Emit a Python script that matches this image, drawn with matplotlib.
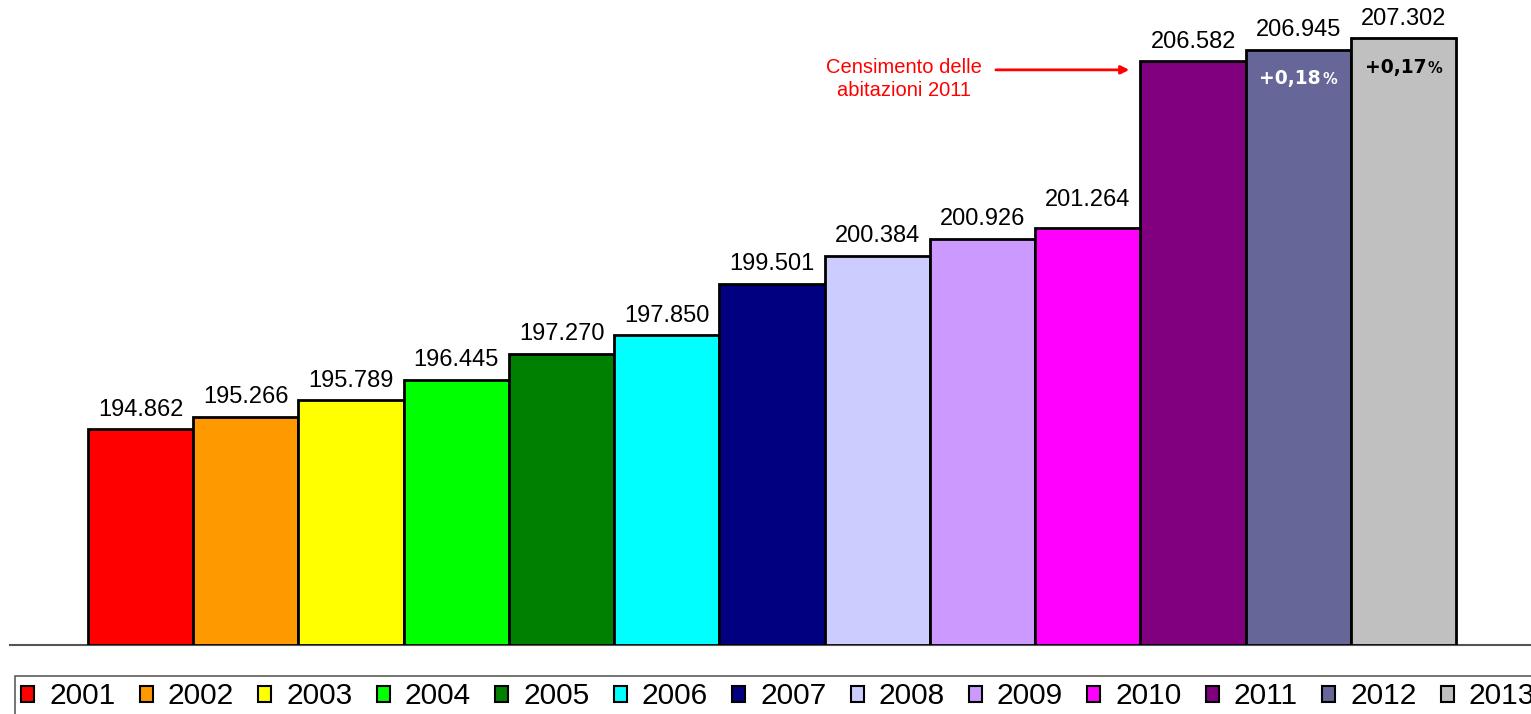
import matplotlib.pyplot as plt
from matplotlib.patches import Patch
from matplotlib.offsetbox import TextArea, HPacker, AnnotationBbox

plt.rcParams['font.family'] = ['Liberation Sans', 'DejaVu Sans']

years = ['2001', '2002', '2003', '2004', '2005', '2006', '2007',
         '2008', '2009', '2010', '2011', '2012', '2013']
values = [194.862, 195.266, 195.789, 196.445, 197.270, 197.850, 199.501,
          200.384, 200.926, 201.264, 206.582, 206.945, 207.302]
colors = ['#FF0000', '#FF9900', '#FFFF00', '#00FF00', '#008000', '#00FFFF',
          '#000080', '#CCCCFF', '#CC99FF', '#FF00FF', '#800080', '#666699',
          '#C0C0C0']
pct_bars = [11, 12]
pct_values = ['+0,18', '+0,17']
pct_colors = ['white', 'black']

fig = plt.figure(figsize=(15.31, 7.14), dpi=100)
ax = fig.add_axes([0.0065, 0.0966, 0.9935, 0.8804])

x = list(range(len(values)))
ax.bar(x, [v - 188 for v in values], bottom=188, width=1.0,
       color=colors, edgecolor='black', linewidth=2, zorder=3)

# value labels above the bars (2010 label sits higher in the original)
for i, v in enumerate(values):
    off = 12 if i == 9 else 6
    ax.annotate(f"{v:.3f}", (i, v), textcoords="offset points",
                xytext=(0, off), ha='center', va='bottom', fontsize=17)

# percentage changes inside the last two bars
for i, txt, col in zip(pct_bars, pct_values, pct_colors):
    box = HPacker(children=[
        TextArea(txt, textprops=dict(fontsize=13.5, fontweight='bold',
                                     color=col, family='DejaVu Sans')),
        TextArea('%', textprops=dict(fontsize=10.5, fontweight='bold',
                                     color=col, family='DejaVu Sans')),
    ], align='baseline', pad=0, sep=1)
    ab = AnnotationBbox(box, (i, values[i]), xybox=(0, -21),
                        xycoords='data', boxcoords='offset points',
                        frameon=False, box_alignment=(0.5, 0.5), zorder=5)
    ax.add_artist(ab)

ax.annotate("", xy=(9.42, 206.3), xytext=(8.1, 206.3),
            arrowprops=dict(arrowstyle='-|>', color='red', lw=2,
                            mutation_scale=12))
ax.text(7.25, 206.0, "Censimento delle\nabitazioni 2011", color='red',
        ha='center', va='center', fontsize=14.5, linespacing=1.25)

ax.set_xlim(-1.24, 13.21)
ax.set_ylim(188, 208)
for s in ['top', 'left', 'right']:
    ax.spines[s].set_visible(False)
ax.spines['bottom'].set_color('#555555')
ax.spines['bottom'].set_linewidth(1.5)
ax.set_xticks([])
ax.set_yticks([])

handles = [Patch(facecolor=c, edgecolor='black', linewidth=1.5) for c in colors]
leg = fig.legend(handles, years, ncol=13, loc='upper left',
                 bbox_to_anchor=(0.0095, 0.0535), fontsize=21.5,
                 handlelength=0.44, handleheight=0.44, handletextpad=0.5,
                 columnspacing=0.81, borderpad=0.22, fancybox=False,
                 frameon=True, borderaxespad=0)
leg.get_frame().set_edgecolor('#333333')
leg.get_frame().set_linewidth(1.2)

fig.savefig("out.png", dpi=100)
